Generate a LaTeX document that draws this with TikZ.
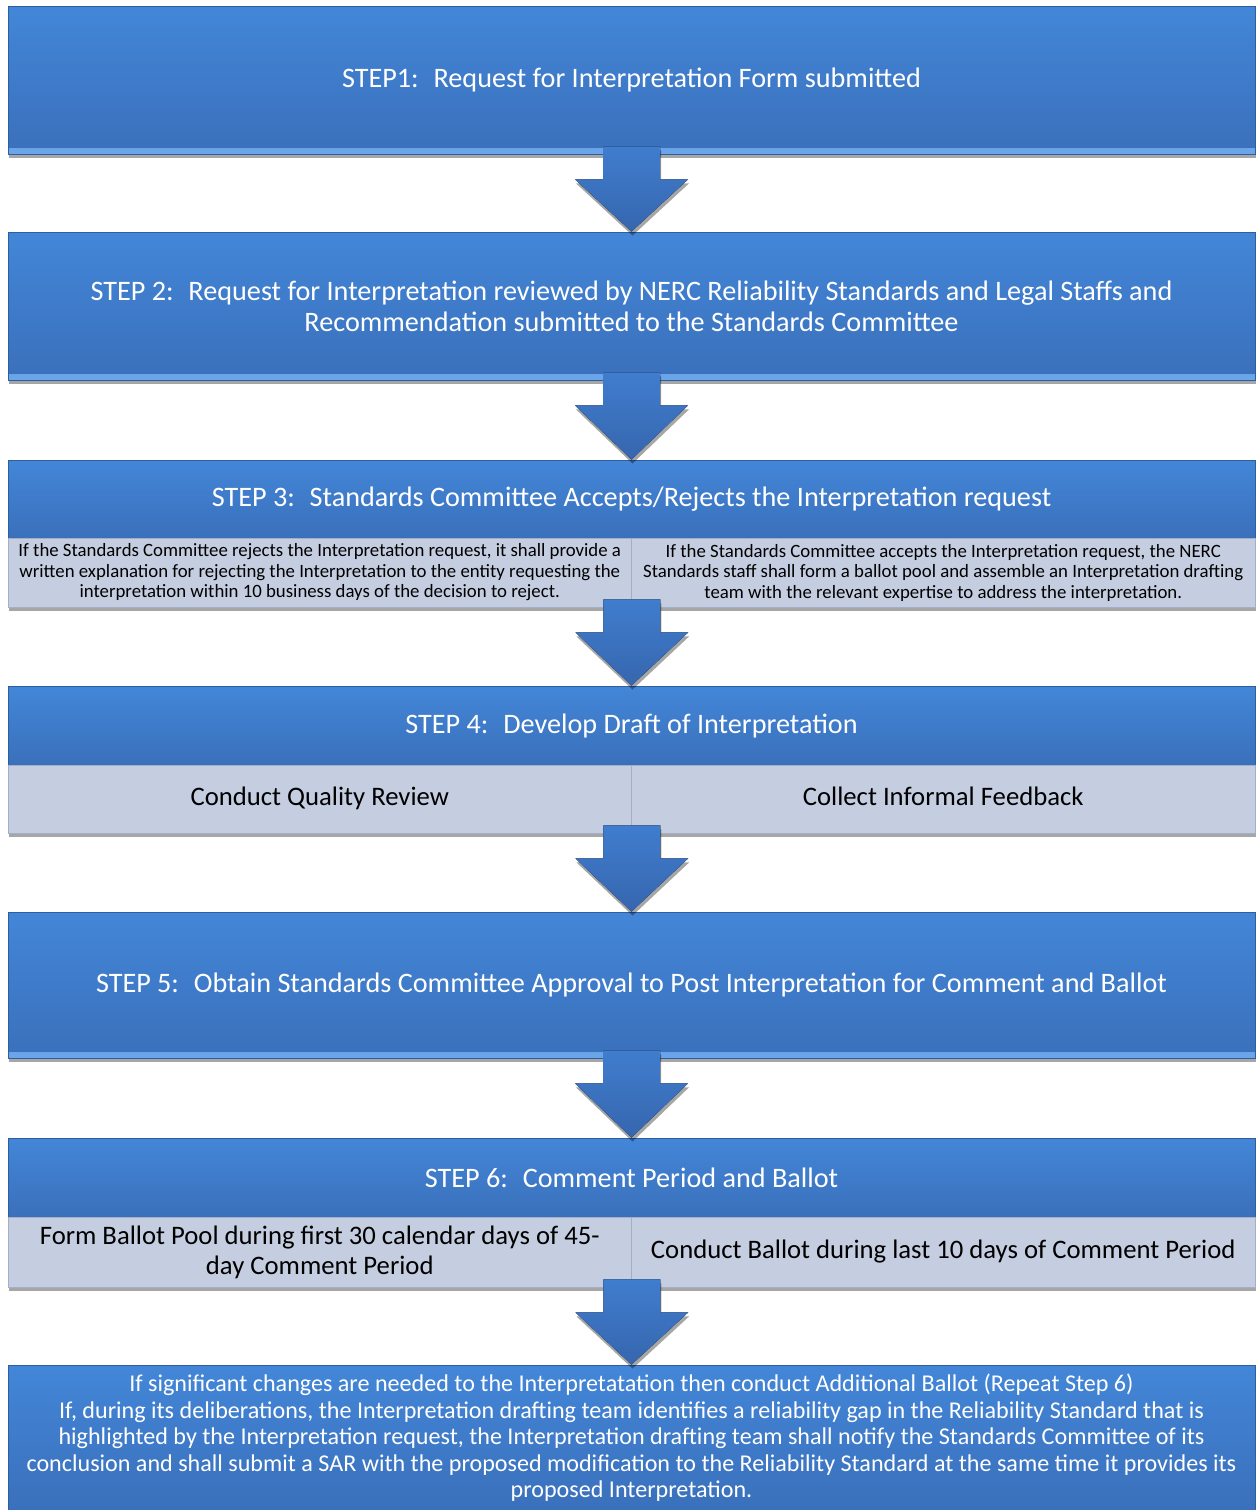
\documentclass[tikz,border=0pt]{standalone}
\usepackage{fontspec}
\setmainfont{Carlito}
\usetikzlibrary{calc, shadows}

\definecolor{stepblue}{HTML}{4386D8}
\definecolor{stepdark}{HTML}{3A70BB}
\definecolor{steplight}{HTML}{6CA6EA}
\definecolor{stepedge}{HTML}{2F5E9E}
\definecolor{subgray}{HTML}{C5CEE1}
\definecolor{subedge}{HTML}{A3AFC8}
\definecolor{arrowtop}{HTML}{407DCE}
\definecolor{arrowbot}{HTML}{3666AE}

% block arrow between two anchors
\newcommand\blockarrow[2]{%
  \fill[bigarrow] ($(#1)+(-28.5,-8)$) -- ($(#1)+(28.5,-8)$) -- ($(#1)+(28.5,25)$)
    -- ($(#1)+(56.5,25)$) -- (#2) -- ($(#1)+(-56.5,25)$) -- ($(#1)+(-28.5,25)$) -- cycle;
}

\begin{document}
\begin{tikzpicture}[x=1pt, y=-1pt,
    shade/.style={drop shadow={shadow xshift=1pt, shadow yshift=-4pt, fill=black, opacity=.35}},
    stepbox/.style={shade, draw=stepedge, line width=.8pt, top color=stepblue, bottom color=stepdark,
      minimum width=1247pt, inner sep=0pt, text=white, align=center, font=\fontsize{28.2}{31}\selectfont},
    bevel/.style={path picture={\fill[top color=stepdark, bottom color=steplight]
      ([yshift=6pt]path picture bounding box.south west) rectangle (path picture bounding box.south east);}},
    subbox/.style={shade, draw=subedge, line width=.6pt, fill=subgray, minimum width=623.5pt,
      inner sep=0pt, align=center, font=\fontsize{26.7}{30}\selectfont},
    oneline/.style={text height=19pt, text depth=6pt},
    smalltext/.style={font=\fontsize{18.8}{20.5}\selectfont},
    bigarrow/.style={shade, top color=arrowtop, bottom color=arrowbot}]

  \useasboundingbox (0,0) rectangle (1257,1510);

  \node[stepbox, bevel, minimum height=148pt] at (631.5,80) (step1)
    {STEP1:~ Request for Interpretation Form submitted};

  \node[stepbox, bevel, minimum height=148pt] at (631.5,306) (step2)
    {STEP 2:~ Request for Interpretation reviewed by NERC Reliability Standards and Legal Staffs and\\
     Recommendation submitted to the Standards Committee};

  \node[stepbox, minimum height=78pt] at (631.5,499) (step3)
    {STEP 3:~ Standards Committee Accepts/Rejects the Interpretation request};
  \node[subbox, smalltext, minimum height=69pt] at (319.75,572.5) (reject)
    {If the Standards Committee rejects the Interpretation request, it shall provide a\\
     written explanation for rejecting the Interpretation to the entity requesting the\\
     interpretation within 10 business days of the decision to reject.};
  \node[subbox, smalltext, minimum height=69pt] at (943.25,572.5) (accept)
    {If the Standards Committee accepts the Interpretation request, the NERC\\
     Standards staff shall form a ballot pool and assemble an Interpretation drafting\\
     team with the relevant expertise to address the interpretation.};

  \node[stepbox, minimum height=79pt] at (631.5,725.5) (step4)
    {STEP 4:~ Develop Draft of Interpretation};
  \node[subbox, oneline, minimum height=68pt] at (319.75,799) (review) {Conduct Quality Review};
  \node[subbox, oneline, minimum height=68pt] at (943.25,799) (feedback) {Collect Informal Feedback};

  \node[stepbox, bevel, minimum height=146pt] at (631.5,985) (step5)
    {STEP 5:~ Obtain Standards Committee Approval to Post Interpretation for Comment and Ballot};

  \node[stepbox, minimum height=79pt] at (631.5,1177.5) (step6)
    {STEP 6:~ Comment Period and Ballot};
  \node[subbox, minimum height=70pt] at (319.75,1252) (pool)
    {Form Ballot Pool during first 30 calendar days of 45-\\day Comment Period};
  \node[subbox, oneline, minimum height=70pt] at (943.25,1252) (ballot)
    {Conduct Ballot during last 10 days of Comment Period};

  \node[stepbox, minimum height=146pt, font=\fontsize{24.1}{26.5}\selectfont] at (631.5,1438) (final)
    {If significant changes are needed to the Interpretatation then conduct Additional Ballot (Repeat Step 6)\\
     If, during its deliberations, the Interpretation drafting team identifies a reliability gap in the Reliability Standard that is\\
     highlighted by the Interpretation request, the Interpretation drafting team shall notify the Standards Committee of its\\
     conclusion and shall submit a SAR with the proposed modification to the Reliability Standard at the same time it provides its\\
     proposed Interpretation.};

  \blockarrow{step1.south}{step2.north}
  \blockarrow{step2.south}{step3.north}
  \blockarrow{reject.south east}{step4.north}
  \blockarrow{review.south east}{step5.north}
  \blockarrow{step5.south}{step6.north}
  \blockarrow{pool.south east}{final.north}
\end{tikzpicture}
\end{document}
